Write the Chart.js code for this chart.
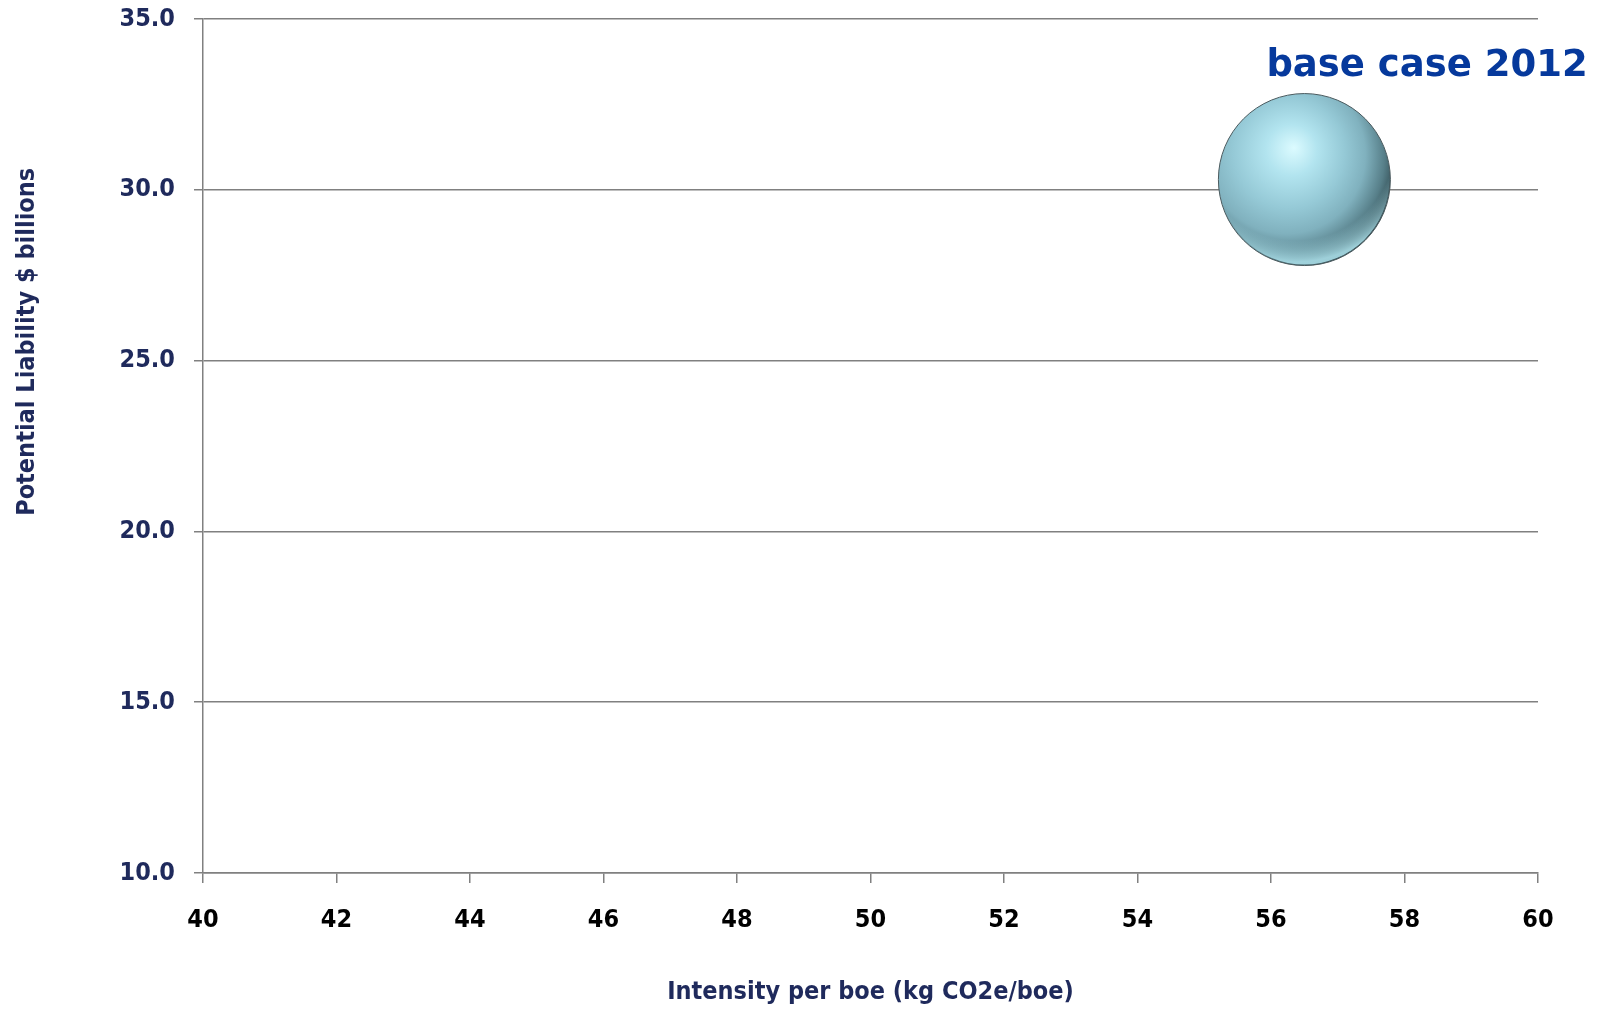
<!DOCTYPE html>
<html>
<head>
<meta charset="utf-8">
<script src="https://cdn.jsdelivr.net/npm/chart.js@4.4.1/dist/chart.umd.min.js"></script>
<style>
  body { margin: 0; background: #fff; }
  #wrap { width: 1601px; height: 1009px; }
</style>
</head>
<body>
<div id="wrap"><canvas id="liabilitychart"></canvas></div>
<script>
// scenario points: intensity (kg CO2e/boe) against liability ($ billions)
const scenarios = ['base case 2012'];
const intensity = [56.5];
const liability = [30.3];

// axis ranges / ticks
const xTicks = [40, 42, 44, 46, 48, 50, 52, 54, 56, 58, 60];
const yTicks = [10, 15, 20, 25, 30, 35];

const navy = '#1f2a5c';
const gridGray = '#808080';
const condensed = '"DejaVu Sans Condensed", "DejaVu Sans", sans-serif';
const bubbleRadius = 86;

Chart.defaults.font.family = condensed;

// shaded sphere fill for the bubble
function sphereFill(context) {
  const chart = context.chart;
  const raw = context.raw;
  if (!raw || !chart.scales.x) return '#8ec3d3';
  const cx = chart.scales.x.getPixelForValue(raw.x);
  const cy = chart.scales.y.getPixelForValue(raw.y);
  if (!isFinite(cx) || !isFinite(cy)) return '#8ec3d3';
  const r = bubbleRadius;
  const g = chart.ctx.createRadialGradient(cx - 0.12 * r, cy - 0.37 * r, 0, cx - 0.25 * r, cy - 0.25 * r, 1.35 * r);
  g.addColorStop(0, '#dcfbff');
  g.addColorStop(0.22, '#b2e4ef');
  g.addColorStop(0.48, '#95c9d6');
  g.addColorStop(0.68, '#80b1be');
  g.addColorStop(0.86, '#577f89');
  g.addColorStop(1, '#2c454b');
  return g;
}

// light reflected rim along the lower edge of each bubble
const bubbleRim = {
  id: 'bubbleRim',
  afterDatasetsDraw(chart) {
    const c = chart.ctx;
    const r = bubbleRadius;
    chart.getDatasetMeta(0).data.forEach(el => {
      c.save();
      c.beginPath();
      c.arc(el.x, el.y, r - 1, 0, Math.PI * 2);
      c.clip();
      const g = c.createRadialGradient(el.x - 0.1 * r, el.y - 0.45 * r, 0, el.x - 0.1 * r, el.y - 0.45 * r, 1.45 * r);
      g.addColorStop(0, 'rgba(170,225,236,0)');
      g.addColorStop(0.8, 'rgba(170,225,236,0)');
      g.addColorStop(0.97, 'rgba(175,228,238,0.85)');
      g.addColorStop(1, 'rgba(175,228,238,0.85)');
      c.fillStyle = g;
      c.fillRect(el.x - r, el.y - r, 2 * r, 2 * r);
      c.restore();
    });
  }
};

// rotated y title, sits a little above the middle of the plot
const yTitle = {
  id: 'yTitle',
  afterDraw(chart) {
    const c = chart.ctx;
    const area = chart.chartArea;
    c.save();
    c.translate(27, area.top + area.height * 0.378);
    c.rotate(-Math.PI / 2);
    c.font = 'bold 25px ' + condensed;
    c.fillStyle = navy;
    c.textAlign = 'center';
    c.textBaseline = 'middle';
    c.fillText('Potential Liability $ billions', 0, 0);
    c.restore();
  }
};

// name of each scenario above its bubble
const bubbleNames = {
  id: 'bubbleNames',
  afterDatasetsDraw(chart) {
    const c = chart.ctx;
    const meta = chart.getDatasetMeta(0);
    c.save();
    c.font = 'bold 37px "DejaVu Sans", sans-serif';
    c.fillStyle = '#06399c';
    c.textAlign = 'left';
    c.textBaseline = 'alphabetic';
    meta.data.forEach((el, i) => {
      c.fillText(scenarios[i], el.x - 38, el.y - 104);
    });
    c.restore();
  }
};

const chart = new Chart(document.getElementById('liabilitychart'), {
  type: 'bubble',
  data: {
    datasets: [{
      label: 'Potential Liability',
      data: intensity.map((v, i) => ({ x: v, y: liability[i] })),
      radius: bubbleRadius,
      backgroundColor: sphereFill,
      borderColor: '#4b5a5e',
      borderWidth: 1
    }]
  },
  options: {
    responsive: true,
    maintainAspectRatio: false,
    animation: false,
    layout: { autoPadding: false, padding: { left: 0, right: 63, top: 19, bottom: 0 } },
    plugins: {
      legend: { display: false },
      tooltip: { enabled: false }
    },
    scales: {
      x: {
        type: 'linear',
        min: xTicks[0],
        max: xTicks[xTicks.length - 1],
        afterBuildTicks: s => { s.ticks = xTicks.map(v => ({ value: v })); },
        afterFit: s => { s.height = 136; },
        grid: { drawOnChartArea: false, drawTicks: true, tickLength: 10, color: gridGray, lineWidth: 1.5 },
        border: { display: true, color: gridGray, width: 1.5 },
        ticks: {
          padding: 22,
          color: '#000',
          font: { size: 25, weight: 'bold' }
        },
        title: {
          display: true,
          text: 'Intensity per boe (kg CO2e/boe)',
          color: navy,
          font: { size: 25, weight: 'bold' },
          padding: { top: 0, bottom: 2 }
        }
      },
      y: {
        type: 'linear',
        min: yTicks[0],
        max: yTicks[yTicks.length - 1],
        afterBuildTicks: s => { s.ticks = yTicks.map(v => ({ value: v })); },
        afterFit: s => { s.width = 203; s.paddingTop = 0; s.paddingBottom = 0; },
        grid: { drawTicks: true, tickLength: 9, color: gridGray, lineWidth: 1.5 },
        border: { display: true, color: gridGray, width: 1.5 },
        ticks: {
          padding: 19,
          color: navy,
          font: { size: 25, weight: 'bold' },
          callback: v => v.toFixed(1)
        }
      }
    }
  },
  plugins: [bubbleRim, yTitle, bubbleNames]
});
</script>
</body>
</html>
